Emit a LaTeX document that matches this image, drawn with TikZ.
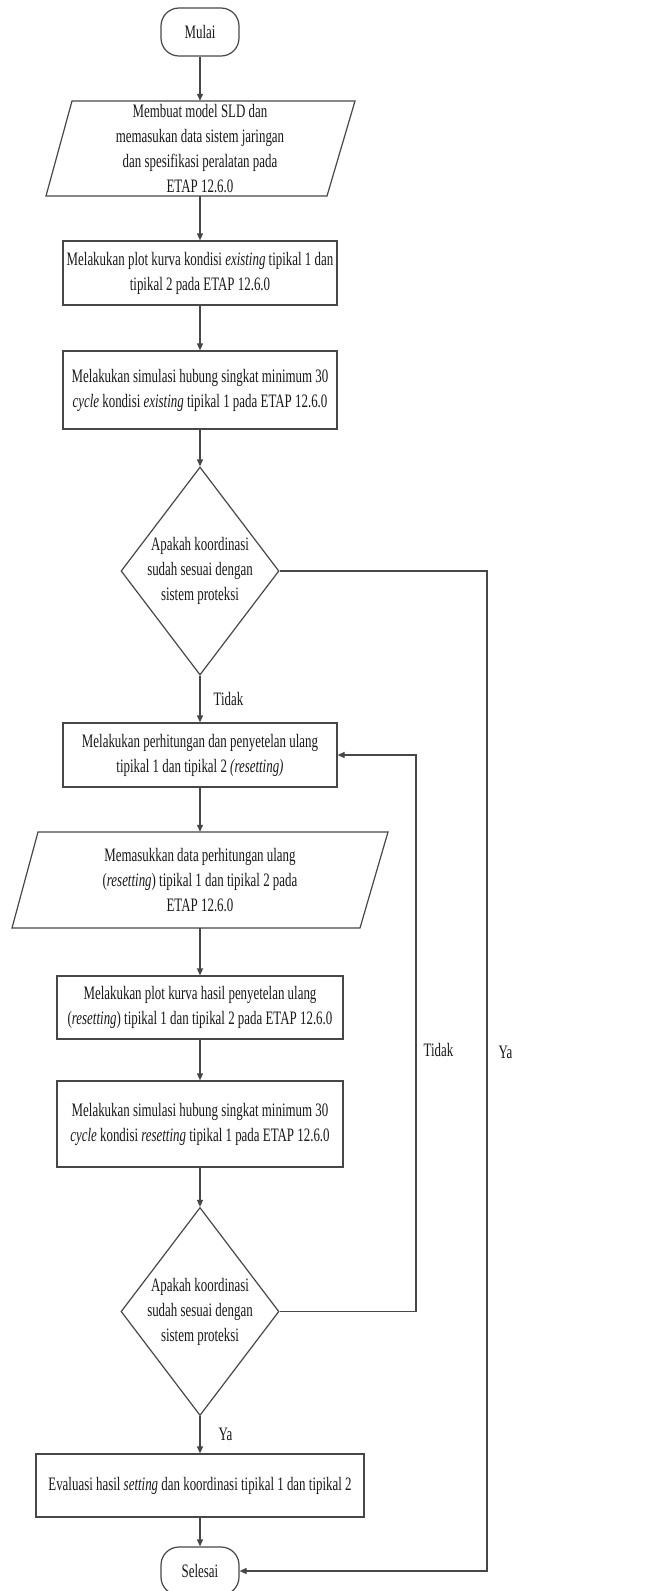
\documentclass[tikz,border=0pt]{standalone}
\usepackage{fontspec}
\setmainfont{Liberation Serif}[FakeStretch=0.68]
\usetikzlibrary{shapes.geometric,arrows.meta}
\begin{document}
\begin{tikzpicture}[x=1pt,y=-1pt,
  every node/.style={font=\fontsize{19}{25}\selectfont, text=black!90},
  line/.style={draw=black!72, line width=1.2pt},
  arr/.style={line, -{Triangle[length=7pt,width=6pt]}},
  term/.style={line, rectangle, rounded corners=18pt, minimum width=78pt, minimum height=48pt, inner sep=0pt},
  proc/.style={line, rectangle, align=center, inner sep=0pt},
  iotext/.style={align=center, inner sep=0pt, minimum width=200pt},
  decis/.style={line, diamond, inner sep=0pt, minimum width=158pt, minimum height=208pt},
  lbl/.style={inner sep=0pt}
]
\useasboundingbox[fill=white] (0,0) rectangle (657,1591);

\node[term] (start) at (200,32) {Mulai};

\node[iotext, minimum height=95pt] (io1) at (200,148.5) {Membuat model SLD dan\\memasukan data sistem jaringan\\dan spesifikasi peralatan pada\\ETAP 12.6.0};
\draw[line] (72,101) -- (355,101) -- (327,196) -- (46,196) -- cycle;

\node[proc, minimum width=274pt, minimum height=64pt] (b1) at (200,273) {Melakukan plot kurva kondisi \textit{existing} tipikal 1 dan\\tipikal 2 pada ETAP 12.6.0};

\node[proc, minimum width=274pt, minimum height=78pt] (b2) at (200,390) {Melakukan simulasi hubung singkat minimum 30\\\textit{cycle} kondisi \textit{existing} tipikal 1 pada ETAP 12.6.0};

\node[decis, label={[align=center, inner sep=0pt]center:Apakah koordinasi\\sudah sesuai dengan\\sistem proteksi}] (d1) at (200,571) {};

\node[proc, minimum width=274pt, minimum height=64pt] (b3) at (200,755) {Melakukan perhitungan dan penyetelan ulang\\tipikal 1 dan tipikal 2 \textit{(resetting)}};

\node[iotext, minimum height=96pt] (io2) at (200,880) {Memasukkan data perhitungan ulang\\(\textit{resetting}) tipikal 1 dan tipikal 2 pada\\ETAP 12.6.0};
\draw[line] (38,832) -- (388,832) -- (360,928) -- (12,928) -- cycle;

\node[proc, minimum width=286pt, minimum height=63pt] (b4) at (200,1007.5) {Melakukan plot kurva hasil penyetelan ulang\\(\textit{resetting}) tipikal 1 dan tipikal 2 pada ETAP 12.6.0};

\node[proc, minimum width=286pt, minimum height=86pt] (b5) at (200,1124) {Melakukan simulasi hubung singkat minimum 30\\\textit{cycle} kondisi \textit{resetting} tipikal 1 pada ETAP 12.6.0};

\node[decis, label={[align=center, inner sep=0pt]center:Apakah koordinasi\\sudah sesuai dengan\\sistem proteksi}] (d2) at (200,1311.5) {};

\node[proc, minimum width=328pt, minimum height=63pt] (b6) at (200,1485.5) {Evaluasi hasil \textit{setting} dan koordinasi tipikal 1 dan tipikal 2};

\node[term] (end) at (200,1571) {Selesai};

\coordinate (ya1a) at (487,571);
\coordinate (ya1b) at (487,1571);
\coordinate (td2a) at (416,1311.5);
\coordinate (td2b) at (416,755);

\draw[arr] (start) -- (io1);
\draw[arr] (io1) -- (b1);
\draw[arr] (b1) -- (b2);
\draw[arr] (b2) -- (d1);
\draw[arr] (d1) -- node[lbl, anchor=west, xshift=13pt] {Tidak} (b3);
\draw[arr] (b3) -- (io2);
\draw[arr] (io2) -- (b4);
\draw[arr] (b4) -- (b5);
\draw[arr] (b5) -- (d2);
\draw[arr] (d2) -- node[lbl, anchor=west, xshift=18pt] {Ya} (b6);
\draw[arr] (b6) -- (end);
\draw[arr] (d1.east) -- (ya1a) -- node[lbl, pos=0.481, anchor=west, xshift=11pt] {Ya} (ya1b) -- (end.east);
\draw[arr] (d2.east) -- (td2a) -- node[lbl, pos=0.47, anchor=west, xshift=7pt] {Tidak} (td2b) -- (b3.east);
\end{tikzpicture}
\end{document}
